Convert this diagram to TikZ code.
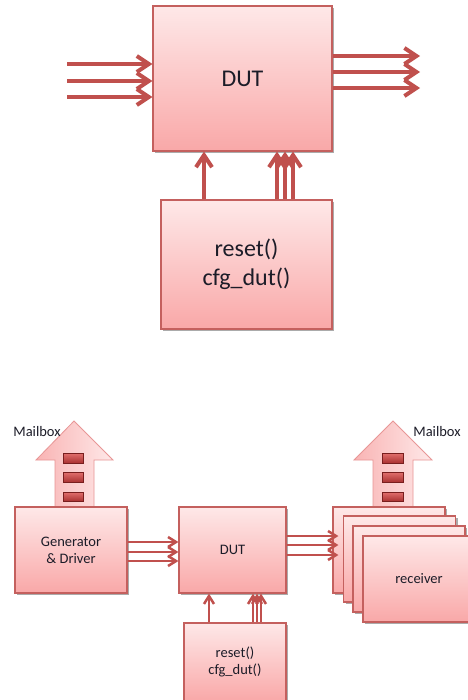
\documentclass[tikz,border=0pt]{standalone}
\usepackage{fontspec}
\setmainfont{Carlito}
\usetikzlibrary{arrows.meta,shadows}

\definecolor{wire}{RGB}{192,80,77}
\definecolor{boxline}{RGB}{196,96,94}
\definecolor{boxtop}{RGB}{254,232,232}
\definecolor{boxbot}{RGB}{249,168,168}
\definecolor{ink}{RGB}{28,28,40}
\definecolor{mbleft}{RGB}{249,180,180}
\definecolor{mbright}{RGB}{254,232,232}
\definecolor{mbline}{RGB}{232,150,150}
\definecolor{slotdark}{RGB}{170,50,50}
\definecolor{slotlight}{RGB}{226,112,110}
\definecolor{slotline}{RGB}{120,30,30}

\tikzset{
  blk/.style={rectangle, draw=boxline, line width=1.2pt, top color=boxtop,
    bottom color=boxbot, inner sep=0pt, text=ink, align=center,
    drop shadow={shadow xshift=2pt, shadow yshift=-2pt, opacity=0.5, fill=black!65}},
  bigfont/.style={font=\fontsize{24}{29}\selectfont},
  smallfont/.style={font=\fontsize{14.5}{17}\selectfont},
  bigwire/.style={draw=wire, line width=4pt, line join=miter,
    -{Straight Barb[length=12pt,width=16pt]}},
  smallwire/.style={draw=wire, line width=2.5pt, line join=miter,
    -{Straight Barb[length=8pt,width=10pt]}},
  mailbox/.style={draw=mbline, line width=0.8pt, left color=mbleft, right color=mbright},
  slot/.style={draw=slotline, line width=0.6pt, top color=slotlight, bottom color=slotdark},
  lbl/.style={text=ink, inner sep=0pt, smallfont}
}

\begin{document}
\begin{tikzpicture}[x=1pt, y=-1pt]
\useasboundingbox (0,0) rectangle (467,700);
\fill[white] (0,0) rectangle (467,700);

% ---------------- upper view: DUT with its configuration block
\node[blk, bigfont, minimum width=179pt, minimum height=145pt] (dut) at (242.5,78.5) {DUT};
\node[blk, bigfont, minimum width=171pt, minimum height=129pt] (cfg) at (246.5,264.5) {reset()\\cfg\_dut()};

% stimulus lines entering the DUT
\foreach \yy [count=\i] in {64,81,97} {
  \coordinate (in\i) at (67,\yy);
  \draw[bigwire] (in\i) -- (in\i -| dut.west);
}
% response lines leaving the DUT
\foreach \yy [count=\i] in {56,72,88} {
  \coordinate (out\i) at (420,\yy);
  \draw[bigwire] (out\i -| dut.east) -- (out\i);
}
% control lines from the configuration block
\foreach \xx [count=\i] in {204,277,285,293} {
  \coordinate (ctl\i) at (\xx,200);
  \draw[bigwire] (ctl\i |- cfg.north) -- (ctl\i |- dut.south);
}

% ---------------- lower view: generator, DUT, receivers
% mailboxes
\path[mailbox] (74,421) -- (113,460) -- (94,460) -- (94,507) -- (55,507)
  -- (55,460) -- (36,460) -- cycle;
\path[mailbox] (393,421) -- (432,460) -- (413,460) -- (413,507) -- (373,507)
  -- (373,460) -- (354,460) -- cycle;
\foreach \ya/\yb in {453/463,472/482,492/501} {
  \path[slot] (63,\ya) rectangle (83,\yb);
  \path[slot] (382,\ya) rectangle (403,\yb);
}
\node[lbl] (mbl) at (37,432) {Mailbox};
\node[lbl] (mbr) at (437,432) {Mailbox};

\node[blk, smallfont, minimum width=112pt, minimum height=86pt] (gen) at (71,550) {Generator\\\& Driver};
\node[blk, smallfont, minimum width=107pt, minimum height=86pt] (dutb) at (232.5,550) {DUT};
\node[blk, smallfont, minimum width=102pt, minimum height=78pt] (cfgb) at (235,662) {reset()\\cfg\_dut()};

% stacked receivers
\node[blk, minimum width=112pt, minimum height=86pt] (rec1) at (389,550) {};
\node[blk, minimum width=112pt, minimum height=86pt] (rec2) at (399.5,559) {};
\node[blk, minimum width=112pt, minimum height=86pt] (rec3) at (409,569) {};
\node[blk, smallfont, minimum width=112pt, minimum height=86pt] (rec4) at (419,579) {receiver};

% generator to DUT
\foreach \yy [count=\i] in {542,552,561} {
  \coordinate (g\i) at (127,\yy);
  \draw[smallwire] (g\i -| gen.east) -- (g\i -| dutb.west);
}
% DUT to receivers
\foreach \yy [count=\i] in {536,545,555} {
  \coordinate (r\i) at (286,\yy);
  \draw[smallwire, shorten >=-6pt] (r\i -| dutb.east) -- (r\i -| rec1.west);
}
% configuration to DUT
\foreach \xx [count=\i] in {209,253,257,261} {
  \coordinate (c\i) at (\xx,623);
  \draw[smallwire] (c\i |- cfgb.north) -- (c\i |- dutb.south);
}
\end{tikzpicture}
\end{document}
